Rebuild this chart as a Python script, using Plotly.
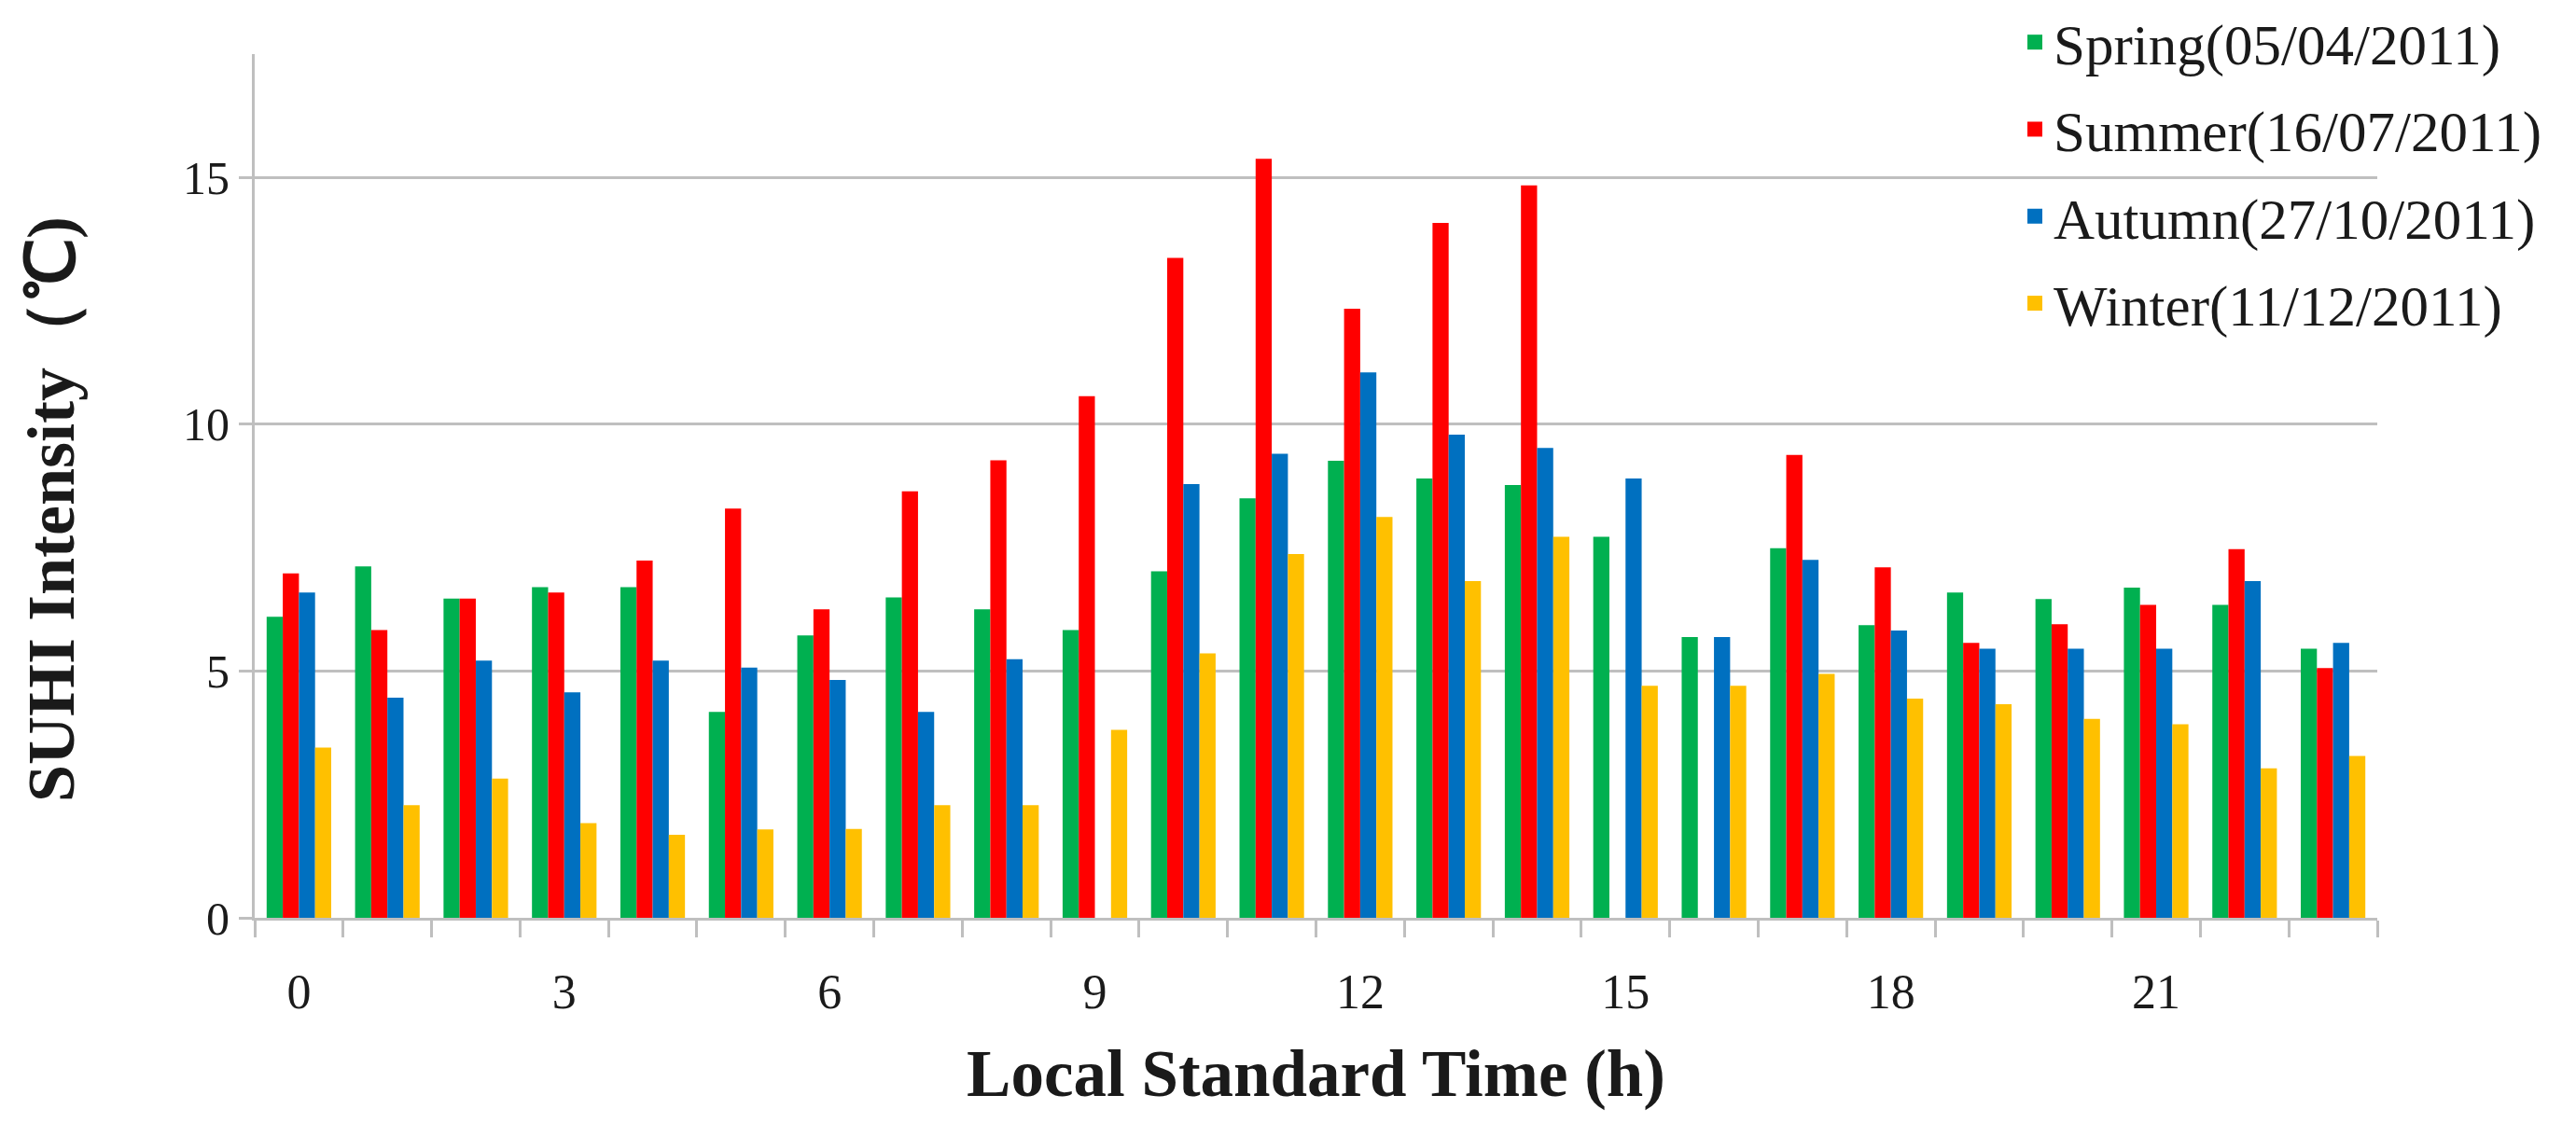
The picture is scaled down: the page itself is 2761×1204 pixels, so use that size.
import plotly.graph_objects as go

hours = list(range(24))
tick_hours = [0, 3, 6, 9, 12, 15, 18, 21]
tick_labels = [str(h) for h in tick_hours]

spring = [6.10, 7.12, 6.47, 6.70, 6.70, 4.17, 5.72, 6.49, 6.25, 5.83, 7.02, 8.50,
          9.26, 8.90, 8.77, 7.72, 5.69, 7.49, 5.93, 6.59, 6.46, 6.69, 6.34, 5.45]
summer = [6.98, 5.83, 6.47, 6.59, 7.24, 8.29, 6.25, 8.64, 9.27, 10.57, 13.37, 15.38,
          12.34, 14.08, 14.84, None, None, 9.38, 7.10, 5.57, 5.95, 6.34, 7.47, 5.06]
autumn = [6.59, 4.46, 5.21, 4.57, 5.21, 5.07, 4.82, 4.17, 5.24, None, 8.79, 9.40,
          11.05, 9.79, 9.52, 8.90, 5.69, 7.25, 5.82, 5.45, 5.45, 5.45, 6.82, 5.57]
winter = [3.45, 2.28, 2.82, 1.92, 1.68, 1.79, 1.80, 2.28, 2.28, 3.81, 5.36, 7.37,
          8.12, 6.82, 7.72, 4.70, 4.70, 4.94, 4.44, 4.33, 4.03, 3.92, 3.03, 3.28]

series_names = ["Spring(05/04/2011)", "Summer(16/07/2011)",
                "Autumn(27/10/2011)", "Winter(11/12/2011)"]
series_values = [spring, summer, autumn, winter]
series_colors = ["#00B050", "#FF0000", "#0070C0", "#FFC000"]

SERIF = "Liberation Serif, Times New Roman, serif"
GRID = "#BFBFBF"
TXT = "#1a1a1a"

fig = go.Figure()
for name, vals, col in zip(series_names, series_values, series_colors):
    fig.add_trace(go.Bar(x=hours, y=vals, name=name, marker_color=col,
                         marker_line_width=0, showlegend=False))
# legend entries with larger square swatches
for name, col in zip(series_names, series_colors):
    fig.add_trace(go.Scatter(x=[None], y=[None], mode="markers", name=name,
                             marker=dict(symbol="square", size=16, color=col),
                             legendgroup=name))

fig.add_annotation(text="<b>SUHI Intensity（℃)</b>", xref="paper", yref="paper",
                   x=-0.0955, y=0.4727, xanchor="center", yanchor="middle",
                   textangle=-90, showarrow=False,
                   font=dict(family=SERIF, size=72, color=TXT))

fig.update_layout(
    width=2745, height=1188,
    margin=dict(l=265, r=205, t=50, b=212, autoexpand=False),
    paper_bgcolor="white", plot_bgcolor="white",
    barmode="group", bargap=0.27, bargroupgap=0,
    font=dict(family=SERIF, color=TXT),
    legend=dict(x=0.8299, y=1.0637, xanchor="left", yanchor="top",
                bgcolor="rgba(0,0,0,0)", font=dict(family=SERIF, size=61, color=TXT),
                tracegroupgap=11, itemsizing="trace"),
    xaxis=dict(
        range=[-0.5, 23.5], tickmode="array", tickvals=tick_hours, ticktext=tick_labels,
        ticks="", showgrid=False, zeroline=False,
        showline=True, linecolor=GRID, linewidth=3,
        tickfont=dict(family=SERIF, size=52, color=TXT),
        ticklabelstandoff=32,
        minor=dict(tick0=-0.5, dtick=1, ticks="outside", ticklen=18, tickwidth=3,
                   tickcolor=GRID, showgrid=False),
        title=dict(text="<b>Local Standard Time (h)</b>", standoff=34,
                   font=dict(family=SERIF, size=71, color=TXT)),
    ),
    yaxis=dict(
        range=[0, 17.5], tickmode="array", tickvals=[0, 5, 10, 15],
        ticks="outside", ticklen=14, tickwidth=3, tickcolor=GRID,
        showgrid=True, gridcolor=GRID, gridwidth=3, zeroline=False,
        showline=True, linecolor=GRID, linewidth=3,
        tickfont=dict(family=SERIF, size=50, color=TXT),
        ticklabelstandoff=0,
    ),
)

fig.write_html("out.html")
